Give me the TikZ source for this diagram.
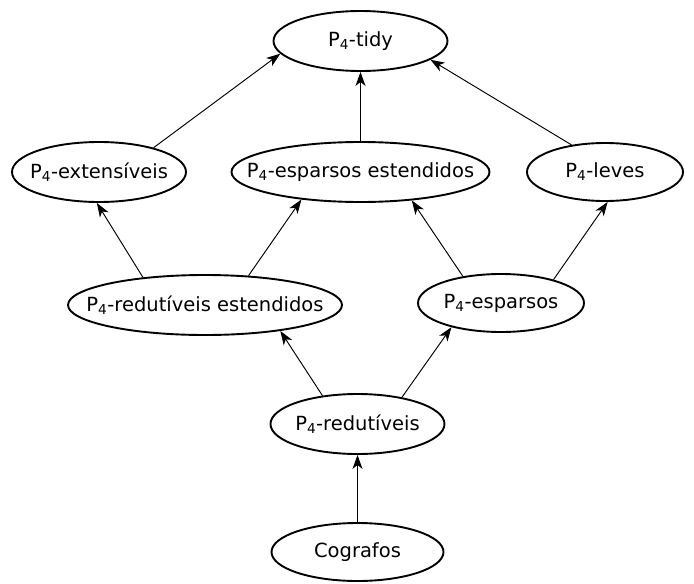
\documentclass[tikz,border=0pt]{standalone}
\usepackage{fontspec}
\setmainfont{DejaVu Sans}
\usetikzlibrary{shapes.geometric,arrows.meta}

\tikzset{
  cls/.style={ellipse, draw, line width=1.9pt, inner sep=0pt,
              font=\fontsize{19.5}{23}\selectfont},
  sub/.style={->, line width=0.95pt,
              >={Stealth[length=14pt,width=10pt,inset=4pt]}}
}
% class name set in a zero-width box, so the outline keeps its given size
\newcommand{\cname}[1]{\makebox[0pt]{#1}}
\newcommand{\Pq}{P\textsubscript{4}}

\begin{document}
\begin{tikzpicture}[x=1pt,y=-1pt]
  \useasboundingbox (0,0) rectangle (694,584);

  % graph classes
  \node[cls, minimum width=174pt, minimum height=60pt] (tidy)   at (360.5,41)  {\cname{\Pq-tidy}};
  \node[cls, minimum width=174pt, minimum height=60pt] (ext)    at (99,172)    {\cname{\Pq-extensíveis}};
  \node[cls, minimum width=258pt, minimum height=60pt] (espest) at (360.5,172) {\cname{\Pq-esparsos estendidos}};
  \node[cls, minimum width=156pt, minimum height=58pt] (leves)  at (605,172)   {\cname{\Pq-leves}};
  \node[cls, minimum width=274pt, minimum height=60pt] (redest) at (205,305)   {\cname{\Pq-redutíveis estendidos}};
  \node[cls, minimum width=166pt, minimum height=58pt] (esp)    at (501,303)   {\cname{\Pq-esparsos}};
  \node[cls, minimum width=174pt, minimum height=60pt] (red)    at (357.5,424) {\cname{\Pq-redutíveis}};
  \node[cls, minimum width=172pt, minimum height=58pt] (cog)    at (357.5,552) {\cname{Cografos}};

  % inclusions
  \draw[sub] (ext.24.8)    -- (tidy.189.8);
  \draw[sub] (espest.north) -- (tidy.south);
  \draw[sub] (leves.141.8) -- (tidy.-15);
  \draw[sub] (redest.156)  -- (ext.266);
  \draw[sub] (redest.34.3) -- (espest.205);
  \draw[sub] (esp.145.6)   -- (espest.-29);
  \draw[sub] (esp.24.4)    -- (leves.-85);
  \draw[sub] (red.141.9)   -- (redest.-19);
  \draw[sub] (red.31.3)    -- (esp.206.6);
  \draw[sub] (cog.north)   -- (red.south);
\end{tikzpicture}
\end{document}
